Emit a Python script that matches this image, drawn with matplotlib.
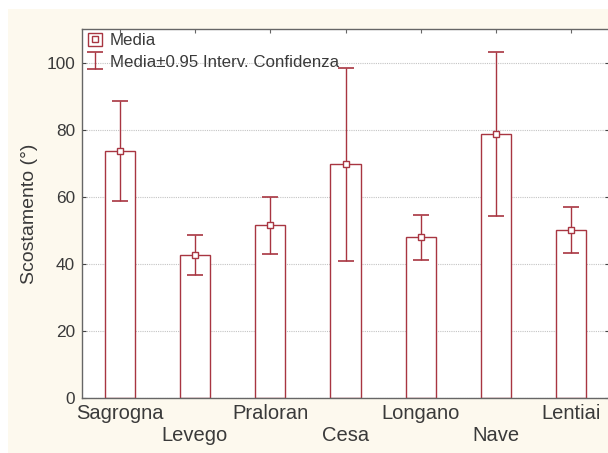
import matplotlib
matplotlib.use("Agg")
import matplotlib.pyplot as plt
from matplotlib.patches import Rectangle
from matplotlib.lines import Line2D
from matplotlib.legend_handler import HandlerTuple

# dati
siti = ['Sagrogna', 'Levego', 'Praloran', 'Cesa', 'Longano', 'Nave', 'Lentiai']
media = [73.7, 42.7, 51.7, 69.9, 47.9, 78.9, 50.1]
ci_basso = [58.9, 36.7, 43.0, 40.9, 41.2, 54.3, 43.3]
ci_alto = [88.6, 48.7, 60.1, 98.5, 54.6, 103.2, 56.9]

ROSSO = '#a83541'
TESTO = '#3a3a3a'

plt.rcParams['font.family'] = ['Liberation Sans', 'DejaVu Sans']

fig = plt.figure(figsize=(6.08, 4.53), dpi=100)
fig.patches.append(Rectangle((8 / 608, 0), 1, 444 / 453, transform=fig.transFigure,
                             facecolor='#fdf9ee', edgecolor='none', zorder=-10))

ax = fig.add_axes([82 / 608, 55 / 453, 527 / 608, 368.7 / 453])
ax.set_facecolor('white')

x = list(range(len(siti)))
barre = ax.bar(x, media, width=0.4, facecolor='white', edgecolor=ROSSO,
               linewidth=1.0, zorder=2)
err_basso = [m - b for m, b in zip(media, ci_basso)]
err_alto = [a - m for m, a in zip(media, ci_alto)]
eb = ax.errorbar(x, media, yerr=[err_basso, err_alto], fmt='none', ecolor=ROSSO,
                 elinewidth=1.0, capsize=5.8, capthick=1.2, zorder=3)
ax.plot(x, media, linestyle='none', marker='s', markersize=4.5,
        markerfacecolor='white', markeredgecolor=ROSSO, markeredgewidth=1.0, zorder=4)

ax.set_xlim(-0.5, 6.5)
ax.set_ylim(0, 110)
ax.set_yticks([0, 20, 40, 60, 80, 100])
ax.set_xticks(x)
ax.set_xticklabels([s if i % 2 == 0 else '\n' + s for i, s in enumerate(siti)],
                   fontsize=14.5, color=TESTO, linespacing=1.25)
ax.tick_params(axis='x', direction='in', length=3, pad=4, top=True, color='#666666')
ax.tick_params(axis='y', direction='in', length=3, pad=5, right=True,
               labelsize=12.4, labelcolor=TESTO, color='#444444')

ax.yaxis.grid(True, linestyle=(0, (1, 1)), color='#c4c4c4', linewidth=0.8)
ax.set_axisbelow(True)

for s in ax.spines.values():
    s.set_color('#666666')
    s.set_linewidth(1.0)

ax.set_ylabel('Scostamento (°)', fontsize=14, color=TESTO, labelpad=6)

# legenda
quadro = Rectangle((0, 0), 1, 1, facecolor='white', edgecolor=ROSSO, linewidth=1.0)
punto = Line2D([], [], linestyle='none', marker='s', markersize=4.5,
               markerfacecolor='white', markeredgecolor=ROSSO, markeredgewidth=1.0)
leg = ax.legend([(quadro, punto), eb], ['Media', 'Media±0.95 Interv. Confidenza'],
                handler_map={tuple: HandlerTuple(ndivide=1)},
                loc='upper left', bbox_to_anchor=(0.005, 1.0), frameon=False,
                fontsize=12.2, handlelength=0.85, handleheight=0.85,
                handletextpad=0.45, labelspacing=0.35, borderpad=0.1,
                borderaxespad=0.1)
for t in leg.get_texts():
    t.set_color(TESTO)

fig.savefig('out.png', dpi=100)
